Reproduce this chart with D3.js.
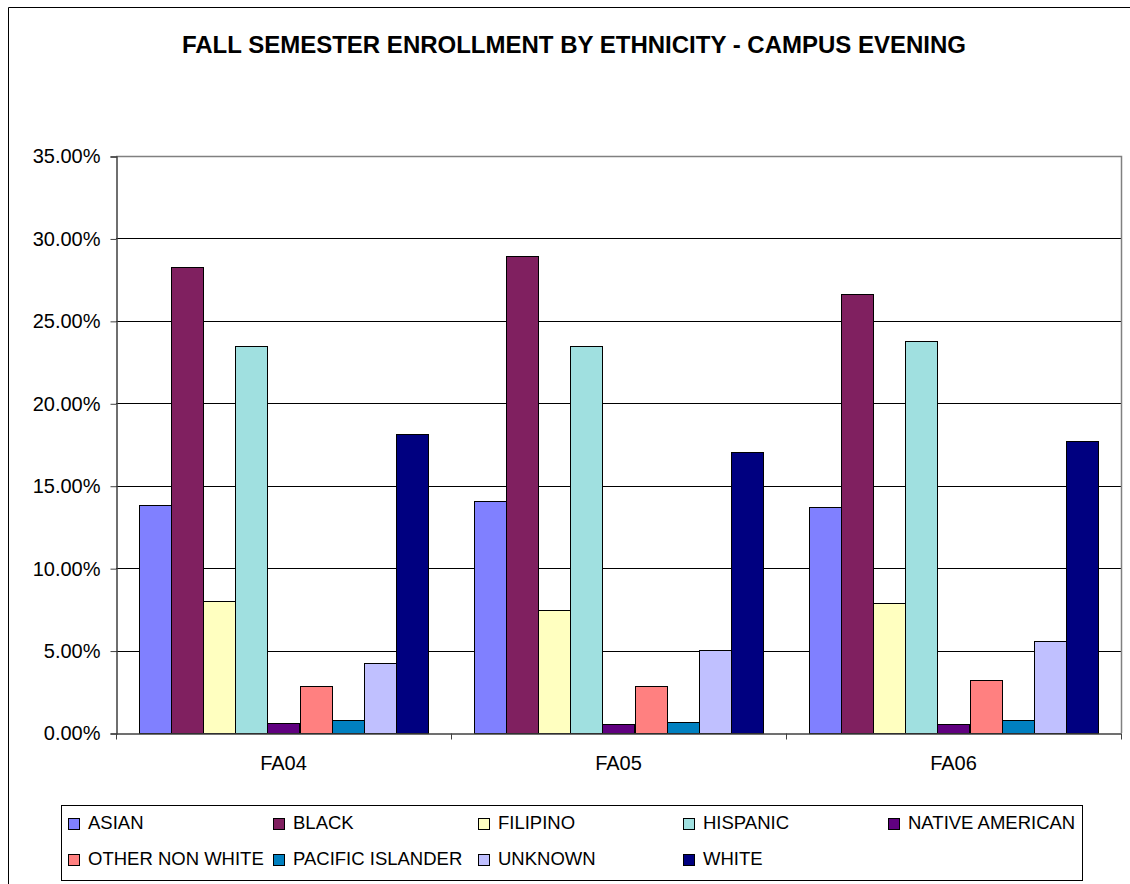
<!DOCTYPE html>
<html>
<head>
<meta charset="utf-8">
<script src="https://cdn.jsdelivr.net/npm/d3@7"></script>
<style>
  body { margin: 0; background: #fff; }
  text { font-family: "Liberation Sans", Arial, sans-serif; }
</style>
</head>
<body>
<div id="chart"></div>
<script>
// chart data
const terms = ["FA04", "FA05", "FA06"]
const groups = ["ASIAN", "BLACK", "FILIPINO", "HISPANIC", "NATIVE AMERICAN",
  "OTHER NON WHITE", "PACIFIC ISLANDER", "UNKNOWN", "WHITE"]
const fa04 = [13.83, 28.28, 8.00, 23.45, 0.58, 2.83, 0.79, 4.23, 18.11]
const fa05 = [14.07, 28.95, 7.46, 23.45, 0.56, 2.85, 0.67, 5.03, 17.04]
const fa06 = [13.72, 26.62, 7.88, 23.77, 0.56, 3.20, 0.79, 5.58, 17.71]
const yTicks = [0, 5, 10, 15, 20, 25, 30, 35]
const colors = ["#8080FF", "#802060", "#FFFFC0", "#A0E0E0", "#600080",
  "#FF8080", "#0080C0", "#C0C0FF", "#000080"]

const values = [fa04, fa05, fa06]
const data = terms.map((t, i) => ({ term: t, vals: groups.map((g, j) => ({ key: g, value: values[i][j] })) }))

const W = 1130, H = 884
const plot = { left: 116, right: 1121, top: 156, bottom: 733 }

const svg = d3.select("#chart").append("svg")
  .attr("width", W).attr("height", H)

// outer chart border (left + top visible)
svg.append("path")
  .attr("d", `M8.5,${H} V7.5 H${W}`)
  .attr("fill", "none").attr("stroke", "#000").attr("stroke-width", 1)

// title
svg.append("text")
  .attr("x", 574).attr("y", 53)
  .attr("text-anchor", "middle")
  .style("font-weight", "bold").style("font-size", "24px")
  .text("FALL SEMESTER ENROLLMENT BY ETHNICITY - CAMPUS EVENING")

const y = d3.scaleLinear().domain([0, 35]).range([plot.bottom, plot.top])
const x0 = d3.scaleBand().domain(terms).range([plot.left, plot.right])
const gap = x0.bandwidth() * 0.068
const x1 = d3.scaleBand().domain(groups).range([gap, x0.bandwidth() - gap])
const color = d3.scaleOrdinal().domain(groups).range(colors)

// gridlines
svg.append("g").selectAll("line")
  .data(yTicks.filter(d => d > 0 && d < 35))
  .join("line")
  .attr("x1", plot.left).attr("x2", plot.right)
  .attr("y1", d => Math.round(y(d)) + 0.5).attr("y2", d => Math.round(y(d)) + 0.5)
  .attr("stroke", "#000")

// plot border top/right in gray
svg.append("path")
  .attr("d", `M${plot.left},${plot.top + 0.5} H${plot.right + 0.5} V${plot.bottom}`)
  .attr("fill", "none").attr("stroke", "#808080").attr("stroke-width", 1.5)

// bars
svg.append("g").selectAll("g")
  .data(data)
  .join("g")
  .attr("transform", d => `translate(${x0(d.term)},0)`)
  .selectAll("rect")
  .data(d => d.vals)
  .join("rect")
  .attr("x", d => Math.round(x1(d.key)) + 0.5)
  .attr("y", d => Math.round(y(d.value)) + 0.5)
  .attr("width", Math.round(x1.bandwidth()))
  .attr("height", d => Math.round(y(0)) - Math.round(y(d.value)))
  .attr("fill", d => color(d.key))
  .attr("stroke", "#000").attr("stroke-width", 1)

// Y axis
const yAxis = svg.append("g")
  .attr("transform", `translate(${plot.left + 0.5},0.5)`)
  .call(d3.axisLeft(y).tickValues(yTicks).tickSize(6).tickPadding(10)
    .tickFormat(d => d.toFixed(2) + "%"))
yAxis.select(".domain").attr("stroke", "#404040").attr("stroke-width", 1.5)
yAxis.selectAll(".tick line").attr("stroke", "#404040")
yAxis.selectAll("text").style("font-size", "20px").attr("fill", "#000")
  .attr("font-family", null)

// X axis
const xAxis = svg.append("g")
  .attr("transform", `translate(0,${plot.bottom + 0.5})`)
  .call(d3.axisBottom(x0).tickSize(0).tickPadding(22))
xAxis.select(".domain").attr("stroke", "#404040").attr("stroke-width", 1.5)
xAxis.selectAll("text").style("font-size", "20px").attr("fill", "#000")
  .attr("font-family", null)
// category boundary ticks
xAxis.selectAll(".bound")
  .data(terms.map(t => x0(t)).concat([plot.right]))
  .join("line")
  .attr("class", "bound")
  .attr("x1", d => Math.round(d) + 0.5).attr("x2", d => Math.round(d) + 0.5)
  .attr("y1", 0).attr("y2", 6)
  .attr("stroke", "#404040")

// legend
const legend = svg.append("g")
svg.append("rect")
  .attr("x", 61.5).attr("y", 805.5).attr("width", 1021).attr("height", 75)
  .attr("fill", "none").attr("stroke", "#000")
const colW = 205
const item = legend.selectAll("g")
  .data(groups)
  .join("g")
  .attr("transform", (d, i) => `translate(${68 + (i % 5) * colW},${i < 5 ? 818 : 854})`)
item.append("rect")
  .attr("x", 0.5).attr("y", 0.5).attr("width", 11).attr("height", 11)
  .attr("fill", d => color(d)).attr("stroke", "#000")
item.append("text")
  .attr("x", 20).attr("y", 11)
  .style("font-size", "18.5px")
  .text(d => d)
</script>
</body>
</html>
